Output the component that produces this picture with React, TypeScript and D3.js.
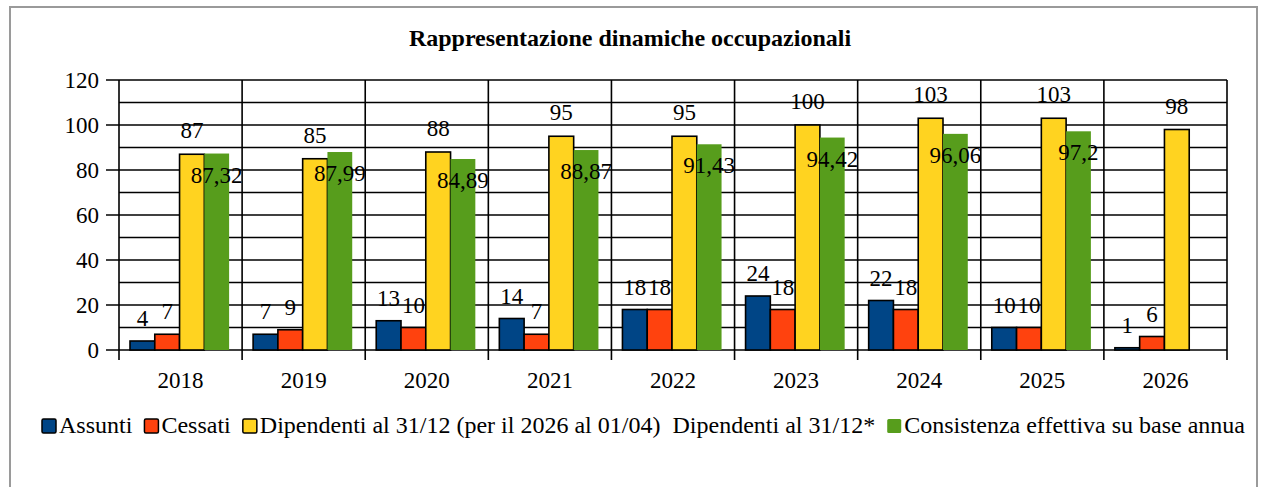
import React from 'react';
import * as d3 from 'd3';

// values
const years = ['2018', '2019', '2020', '2021', '2022', '2023', '2024', '2025', '2026'];
const assunti = [4, 7, 13, 14, 18, 24, 22, 10, 1];
const cessati = [7, 9, 10, 7, 18, 18, 18, 10, 6];
const dipendenti = [87, 85, 88, 95, 95, 100, 103, 103, 98];
const consistenza: (number | null)[] = [87.32, 87.99, 84.89, 88.87, 91.43, 94.42, 96.06, 97.2, null];
const yTicks = [0, 20, 40, 60, 80, 100, 120];
const yMinor = [10, 30, 50, 70, 90, 110];

const legendItems = [
  { label: 'Assunti', color: '#004586', stroke: true },
  { label: 'Cessati', color: '#ff420e', stroke: true },
  { label: 'Dipendenti al 31/12 (per il 2026 al 01/04)', color: '#ffd320', stroke: true },
  { label: 'Dipendenti al 31/12*', color: 'none', stroke: false },
  { label: 'Consistenza effettiva su base annua', color: '#579d1c', stroke: false },
];

const series = [
  { key: 'a', values: assunti as (number | null)[], color: '#004586', stroke: true, labelDy: -15 },
  { key: 'c', values: cessati as (number | null)[], color: '#ff420e', stroke: true, labelDy: -15 },
  { key: 'd', values: dipendenti as (number | null)[], color: '#ffd320', stroke: true, labelDy: -16 },
  { key: 'g', values: consistenza, color: '#579d1c', stroke: false, labelDy: 29 },
];

const FONT = "'Liberation Serif', 'DejaVu Serif', 'Times New Roman', serif";

const measure = (() => {
  let ctx: CanvasRenderingContext2D | null = null;
  return (text: string, size: number) => {
    if (!ctx) ctx = document.createElement('canvas').getContext('2d');
    if (!ctx) return text.length * size * 0.45;
    ctx.font = `${size}px ${FONT}`;
    return ctx.measureText(text).width;
  };
})();

const fmt = (v: number) => String(v).replace('.', ',');

const App = () => {
  const width = 1266;
  const height = 487;
  const left = 119;
  const right = 1227;
  const top = 80;
  const bottom = 350;
  const fs = 23;
  const legendFs = 24;

  const x0 = d3.scaleBand<string>().domain(years).range([left, right]);
  const x1 = d3.scaleBand<string>()
    .domain(series.map(s => s.key))
    .range([11, x0.bandwidth() - 13]);
  const y = d3.scaleLinear().domain([0, 120]).range([bottom, top]);

  // legend layout: spread between the reference's start and end,
  // the entry without colour takes no swatch room
  const swatch = 14;
  const swGap = 3;
  const legendStart = 42;
  const legendEnd = 1245;
  const textW = legendItems.map(it => measure(it.label, legendFs));
  const swRoom = legendItems.map(it => (it.color === 'none' ? 0 : swatch + swGap));
  const used = d3.sum(textW) + d3.sum(swRoom);
  const gap = Math.max(6, (legendEnd - legendStart - used) / (legendItems.length - 1));
  let lx = legendStart;
  const legendPos = legendItems.map((item, i) => {
    const pos = { ...item, x: lx, tx: lx + swRoom[i] };
    lx += swRoom[i] + textW[i] + gap;
    return pos;
  });

  return (
    <div style={{ position: 'absolute', left: 0, top: 0 }}>
      <svg width={width} height={height} style={{ display: 'block' }}>
        <rect x={0} y={0} width={width} height={height} fill="#fff" />
        <rect x={10} y={7} width={1247} height={520} fill="none" stroke="#9a9a9a" strokeWidth={2} />

        <text x={630} y={46} textAnchor="middle" fontFamily={FONT} fontSize={24} fontWeight="bold" fill="#000">
          Rappresentazione dinamiche occupazionali
        </text>

        {/* minor grid */}
        {yMinor.map(t => (
          <line key={`m${t}`} x1={left} x2={right} y1={y(t)} y2={y(t)} stroke="#000" strokeWidth={1.6} />
        ))}
        {/* major grid + ticks */}
        {yTicks.map(t => (
          <g key={t}>
            <line x1={left - 13} x2={right} y1={y(t)} y2={y(t)} stroke="#000" strokeWidth={1.6} />
            <text x={99} y={y(t)} dy="0.34em" textAnchor="end" fontFamily={FONT} fontSize={fs} fill="#000">{t}</text>
          </g>
        ))}
        {/* category separators */}
        {[...years.map(yr => x0(yr) as number), right].map((xv, i) => (
          <line key={`v${i}`} x1={xv} x2={xv} y1={top} y2={bottom + 10} stroke="#000" strokeWidth={1.6} />
        ))}

        {/* bars */}
        {years.map((yr, i) => (
          <g key={yr} transform={`translate(${x0(yr)},0)`}>
            {series.map(s => {
              const v = s.values[i];
              if (v == null) return null;
              return (
                <rect
                  key={s.key}
                  x={x1(s.key)}
                  y={y(v)}
                  width={x1.bandwidth()}
                  height={y(0) - y(v)}
                  fill={s.color}
                  stroke={s.stroke ? '#000' : 'none'}
                  strokeWidth={1.6}
                />
              );
            })}
          </g>
        ))}

        {/* value labels */}
        {years.map((yr, i) => (
          <g key={`l${yr}`} transform={`translate(${x0(yr)},0)`}>
            {series.map(s => {
              const v = s.values[i];
              if (v == null) return null;
              return (
                <text
                  key={s.key}
                  x={(x1(s.key) as number) + x1.bandwidth() / 2}
                  y={y(v) + s.labelDy}
                  textAnchor="middle"
                  fontFamily={FONT}
                  fontSize={fs}
                  fill="#000"
                >
                  {fmt(v)}
                </text>
              );
            })}
          </g>
        ))}

        {/* category labels */}
        {years.map(yr => (
          <text
            key={`x${yr}`}
            x={(x0(yr) as number) + x0.bandwidth() / 2}
            y={388}
            textAnchor="middle"
            fontFamily={FONT}
            fontSize={fs}
            fill="#000"
          >
            {yr}
          </text>
        ))}

        {/* legend */}
        {legendPos.map(item => (
          <g key={item.label}>
            {item.color !== 'none' && (
              <rect
                x={item.x}
                y={419}
                width={swatch}
                height={swatch}
                rx={1.5}
                fill={item.color}
                stroke={item.stroke ? '#000' : 'none'}
                strokeWidth={1.5}
              />
            )}
            <text x={item.tx} y={433} fontFamily={FONT} fontSize={legendFs} fill="#000">
              {item.label}
            </text>
          </g>
        ))}
      </svg>
    </div>
  );
};

export default App;
